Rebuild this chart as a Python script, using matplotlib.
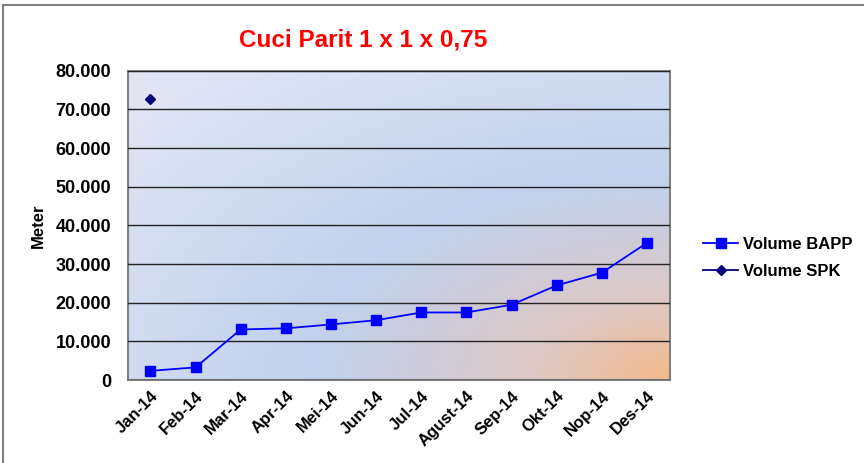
import matplotlib
matplotlib.use("Agg")
import matplotlib.pyplot as plt
import matplotlib.ticker as mticker
from matplotlib.patches import Rectangle
import numpy as np

plt.rcParams["font.family"] = ["Liberation Sans", "DejaVu Sans"]
plt.rcParams["font.weight"] = "bold"

months = ["Jan-14", "Feb-14", "Mar-14", "Apr-14", "Mei-14", "Jun-14",
          "Jul-14", "Agust-14", "Sep-14", "Okt-14", "Nop-14", "Des-14"]
volume_bapp = [2400, 3300, 13100, 13400, 14400, 15500,
               17500, 17500, 19500, 24500, 27800, 35500]
volume_spk = [72600] + [np.nan] * 11

fig = plt.figure(figsize=(8.64, 4.63), dpi=100)
fig.patches.append(Rectangle((3 / 864, -0.05), 1.05, 1 - 5 / 463 + 0.05,
                             transform=fig.transFigure, fill=False,
                             edgecolor="#808080", linewidth=1.5))

ax = fig.add_axes([0.148, 0.179, 0.627, 0.668])

# radial-ish fill from the bottom right corner: orange -> blue -> lavender
h, w = 200, 400
xx, yy = np.meshgrid(np.linspace(0, 1, w), np.linspace(0, 1, h))
r = np.sqrt(((1 - xx) / 0.6) ** 2 + (yy / 0.6) ** 2)
stops = [0.0, 0.45, 0.8, 1.1, 2.2]
cols = np.array([[0.96, 0.73, 0.55],
                 [0.86, 0.79, 0.78],
                 [0.80, 0.80, 0.86],
                 [0.76, 0.82, 0.93],
                 [0.88, 0.90, 0.96]])
img = np.stack([np.interp(r, stops, cols[:, k]) for k in range(3)], axis=-1)
ax.imshow(img, extent=[-0.5, 11.5, 0, 80000], origin="lower",
          aspect="auto", zorder=0)

x = np.arange(len(months))
ax.plot(x, volume_bapp, color="#0000ff", marker="s", markersize=7.5,
        linewidth=1.3, label="Volume BAPP", zorder=3)
ax.plot(x, volume_spk, color="#000080", marker="D", markersize=5,
        linewidth=1.3, label="Volume SPK", zorder=3)

ax.set_xlim(-0.5, 11.5)
ax.set_ylim(0, 80000)
ax.set_yticks(np.arange(0, 80001, 10000))
ax.yaxis.set_major_formatter(
    mticker.FuncFormatter(lambda v, p: "0" if v == 0 else f"{int(v):,}".replace(",", ".")))
ax.set_xticks(x)
ax.set_xticklabels(months, rotation=45, ha="right", rotation_mode="anchor",
                   fontsize=12, fontweight="bold")
for lab in ax.get_yticklabels():
    lab.set_fontsize(13)
    lab.set_fontweight("bold")
ax.tick_params(axis="y", length=0, pad=12)
ax.tick_params(axis="x", length=0, pad=6)
ax.grid(axis="y", color="#222222", linewidth=1)
ax.set_axisbelow(False)
for s in ax.spines.values():
    s.set_color("#808080")
    s.set_linewidth(1.5)

ax.set_ylabel("Meter", fontsize=12, fontweight="bold", labelpad=7)
fig.text(0.42, 0.913, "Cuci Parit 1 x 1 x 0,75", color="#ff0000",
         fontsize=17.5, fontweight="bold", ha="center", va="center")

leg = ax.legend(loc="center left", bbox_to_anchor=(1.05, 0.395), frameon=False,
                handlelength=2.1, handletextpad=0.3, labelspacing=0.75,
                borderaxespad=0.0, prop={"weight": "bold", "size": 12})

fig.savefig("out.png", dpi=100)
